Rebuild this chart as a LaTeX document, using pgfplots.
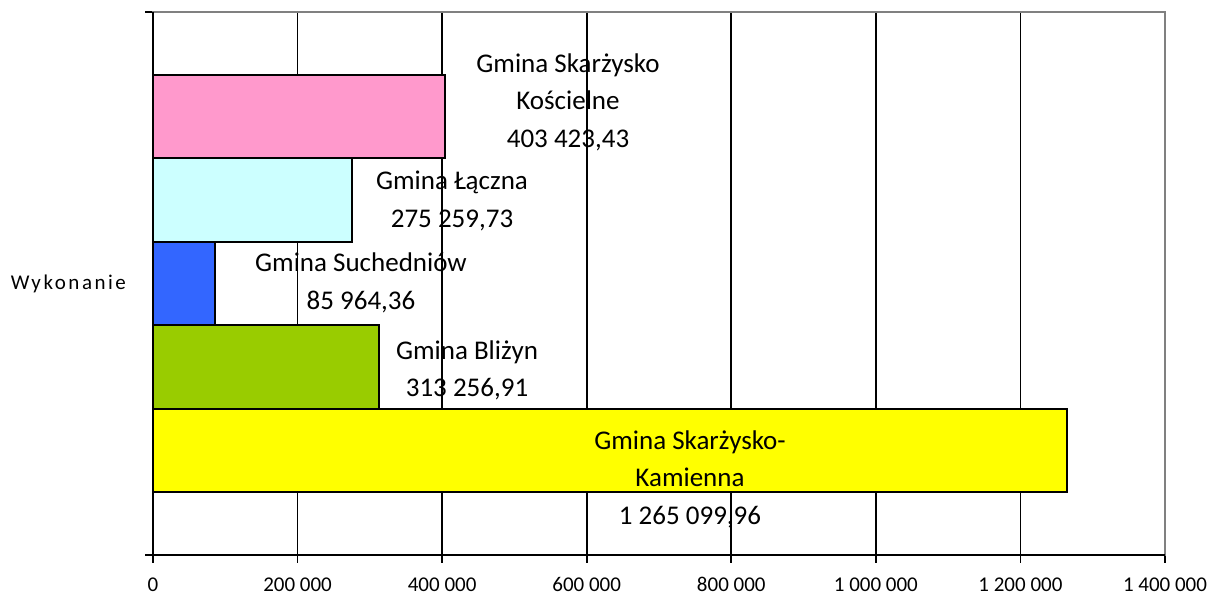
\documentclass[border=0pt]{standalone}
\usepackage{fontspec}
\setmainfont{Carlito}
\newfontfamily\wide[LetterSpace=12]{Carlito}
\usepackage{pgfplots}
\pgfplotsset{compat=1.18}
\definecolor{Pk}{HTML}{FF99CC}
\definecolor{Cy}{HTML}{CCFFFF}
\definecolor{Bl}{HTML}{3366FF}
\definecolor{Gr}{HTML}{99CC00}
\definecolor{Ye}{HTML}{FFFF00}
\definecolor{Bd}{HTML}{808080}
\pgfplotsset{
  BAR/.style={xbar, bar width=1, bar shift=0, draw=black, line width=1pt},
}
\tikzset{
  LBL/.style={align=center, font=\fontsize{13.5}{18.75}\selectfont, inner sep=0pt},
}

\begin{document}
\begin{tikzpicture}
\begin{axis}[
  scale only axis, width=506pt, height=271.5pt,
  xmin=0, xmax=1400000, ymin=0, ymax=6.5,
  axis line style={draw=Bd, line width=1pt},
  xtick={0,200000,400000,600000,800000,1000000,1200000,1400000},
  xticklabels={0,200 000,400 000,600 000,800 000,1 000 000,1 200 000,1 400 000},
  x tick label style={font=\fontsize{10.5}{12}\selectfont, anchor=north,
    text height=7.2pt, text depth=0pt, inner sep=0pt, yshift=-7pt},
  ytick={0,6.5}, yticklabels={,},
  extra y ticks={3.25}, extra y tick labels={\wide Wykonanie},
  extra y tick style={major tick length=0pt, grid=none,
    tick label style={font=\fontsize{10.5}{12}\selectfont, xshift=-10pt}},
  tick align=outside, major tick length=4pt,
  tick style={draw=black, line width=0.9pt},
  xtick pos=bottom, ytick pos=left,
  xmajorgrids, grid style={draw=black, line width=0.85pt},
  clip=false,
]
\addplot[BAR, fill=Ye] coordinates {(1265099.96,1.25)};
\addplot[BAR, fill=Gr] coordinates {(313256.91,2.25)};
\addplot[BAR, fill=Bl] coordinates {(85964.36,3.25)};
\addplot[BAR, fill=Cy] coordinates {(275259.73,4.25)};
\addplot[BAR, fill=Pk] coordinates {(403423.43,5.25)};

\draw[black, line width=1.1pt] (axis description cs:0,1) -- (axis description cs:0,0) -- (axis description cs:1,0);

\node[LBL] at (axis cs:574111,5.42) {Gmina Skarżysko\\Kościelne\\403 423,43};
\node[LBL] at (axis cs:413636,4.24) {Gmina Łączna\\275 259,73};
\node[LBL] at (axis cs:287747,3.26) {Gmina Suchedniów\\85 964,36};
\node[LBL] at (axis cs:434387,2.21) {Gmina Bliżyn\\313 256,91};
\node[LBL] at (axis cs:742885,0.91) {Gmina Skarżysko-\\Kamienna\\1 265 099,96};
\end{axis}
\pgfresetboundingbox
\useasboundingbox (current axis.south west) ++(-76.5pt,-21pt) rectangle ++(610.5pt,298.5pt);
\end{tikzpicture}
\end{document}
